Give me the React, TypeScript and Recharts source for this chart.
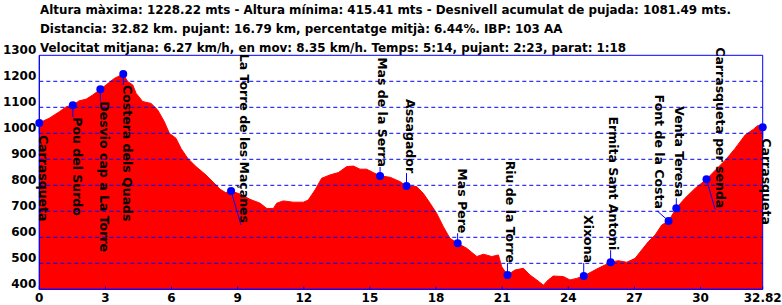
import React from "react";
import { ComposedChart, Area, Scatter, XAxis, YAxis, ReferenceLine } from "recharts";

// elevation profile (km, m)
const distances = [
  0, 0.45, 0.91, 1.22, 1.52, 1.81, 2.12, 2.42, 2.77, 3.03, 3.4, 3.81, 4.01, 4.24, 4.39, 4.69, 5.07, 5.37,
  5.67, 5.9, 6.2, 6.43, 6.73, 7.11, 7.56, 8.02, 8.2, 8.45, 8.7, 9.12, 9.56, 10.02, 10.32, 10.62, 10.77,
  11.07, 11.52, 11.98, 12.2, 12.51, 12.81, 13.19, 13.57, 13.95, 14.25, 14.55, 14.85, 15.15, 15.46, 15.91,
  16.37, 16.66, 17.12, 17.42, 17.73, 18.03, 18.33, 18.63, 18.98, 19.39, 19.85, 20.15, 20.53, 20.83, 20.98,
  21.24, 21.58, 21.96, 22.26, 22.57, 22.87, 23.09, 23.32, 23.77, 24.08, 24.38, 24.7, 25.36, 25.92, 26.27,
  26.65, 27.03, 27.33, 27.63, 27.94, 28.24, 28.55, 28.9, 29.29, 29.75, 30.27, 30.68, 31.13, 31.57, 32.02,
  32.39, 32.6, 32.82,
];
const elevations = [
  1040, 1058, 1083, 1102, 1108, 1125, 1131, 1147, 1169, 1186, 1211, 1228, 1199, 1186, 1154, 1122, 1115, 1090,
  1045, 1000, 981, 942, 904, 872, 840, 801, 785, 772, 778, 766, 746, 731, 711, 711, 731,
  740, 735, 735, 743, 782, 827, 840, 849, 872, 874, 862, 862, 849, 836, 831,
  814, 797, 795, 769, 731, 692, 641, 596, 577, 558, 526, 535, 526, 532, 487,
  455, 474, 481, 455, 436, 416, 436, 451, 449, 436, 442, 451, 481, 504, 510,
  504, 519, 551, 583, 609, 647, 663, 712, 750, 788, 823, 859, 897, 942, 993,
  1015, 1030, 1023,
];

// waypoints
const wpNames = [
  "Carrasqueta", "Pou del Surdo", "Desvio cap a La Torre", "Costera dels Quads", "La Torre de les Maçanes",
  "Mas de la Serra", "Assagador", "Mas Pere", "Riu de la Torre", "Xixona", "Ermita Sant Antoni",
  "Font de la Costa", "Venta Teresa", "Carrasqueta per senda", "Carrasqueta",
];
const wpKm = [0, 1.52, 2.77, 3.81, 8.7, 15.46, 16.66, 18.98, 21.24, 24.7, 25.92, 28.55, 28.9, 30.27, 32.82];
const wpElev = [1040, 1108, 1169, 1228, 778, 836, 797, 577, 455, 451, 504, 663, 712, 823, 1023];

const xTicks = [0, 3, 6, 9, 12, 15, 18, 21, 24, 27, 30, 32.82];
const yTicks = [400, 500, 600, 700, 800, 900, 1000, 1100, 1200, 1300];

const headerLines = [
  "Altura màxima: 1228.22 mts - Altura mínima: 415.41 mts - Desnivell acumulat de pujada: 1081.49 mts.",
  "Distancia: 32.82 km. pujant: 16.79 km, percentatge mitjà: 6.44%. IBP: 103 AA",
  "Velocitat mitjana: 6.27 km/h, en mov: 8.35 km/h. Temps: 5:14, pujant: 2:23, parat: 1:18",
];

// label placement in px relative to marker: text x, text y, leader end x, leader end y, anchor
const labelLayout: [number, number, number, number, string][] = [
  [0, 12, 0, 11, "start"],
  [0, 12, 0, 12, "start"],
  [0, 12, 0, 12, "start"],
  [0, 11, 0, 11, "start"],
  [9, 32, 10, 34, "end"],
  [-2, -9, 0, -9, "end"],
  [-1, -13, 0, -13, "end"],
  [0, -10, 0, -10, "end"],
  [-1, -12, 0, -12, "end"],
  [0, -13, 0, -13, "end"],
  [-2, -12, 0, -12, "end"],
  [-14, -12, -11.5, -10, "end"],
  [-1, -11, 0, -10, "end"],
  [9, 29, 8.6, 30, "end"],
  [-0.5, 11, 0, 11, "start"],
];

const BLUE = "#0000ff";
const FONT = "'DejaVu Sans', Verdana, sans-serif";

const profile = distances.map((km, i) => ({ km, elev: elevations[i] }));
const waypoints = wpNames.map((name, i) => ({ km: wpKm[i], elev: wpElev[i], name, i }));

const Waypoint = (props: any) => {
  const { cx, cy, payload } = props;
  if (cx == null || cy == null) return null;
  const [tx, ty, lx, ly, anchor] = labelLayout[payload.i];
  const x = cx + tx;
  const y = cy + ty;
  return (
    <g>
      <line x1={cx} y1={cy} x2={cx + lx} y2={cy + ly} stroke={BLUE} strokeWidth={1} />
      <circle cx={cx} cy={cy} r={4} fill={BLUE} />
      <text
        x={x}
        y={y}
        transform={`rotate(90 ${x} ${y})`}
        textAnchor={anchor}
        fontFamily={FONT}
        fontWeight="bold"
        fontSize={12.5}
        fill="#000"
      >
        {payload.name}
      </text>
    </g>
  );
};

const XTick = (props: any) => {
  const { x, y, payload } = props;
  return (
    <g>
      <line x1={x} y1={y} x2={x} y2={y - 3} stroke={BLUE} />
      <text x={x} y={y + 12.5} textAnchor="middle" fontFamily={FONT} fontWeight="bold" fontSize={12} fill="#000">
        {payload.value}
      </text>
    </g>
  );
};

const YTick = (props: any) => {
  const { x, y, payload } = props;
  return (
    <text x={x} y={y - 1} textAnchor="end" fontFamily={FONT} fontWeight="bold" fontSize={12} fill="#000">
      {payload.value}
    </text>
  );
};

export default function App() {
  return (
    <div style={{ position: "absolute", left: 0, top: 0, width: 782, height: 305, background: "#fff" }}>
      <ComposedChart
        width={782}
        height={305}
        data={profile}
        margin={{ top: 55.3, right: 19.3, bottom: 0, left: 0 }}
      >
        <XAxis
          dataKey="km"
          type="number"
          domain={[0, 32.82]}
          ticks={xTicks}
          interval={0}
          height={15.7}
          tickSize={0}
          tickMargin={0}
          axisLine={{ stroke: BLUE }}
          tickLine={false}
          tick={<XTick />}
        />
        <YAxis
          type="number"
          domain={[400, 1300]}
          ticks={yTicks}
          interval={0}
          width={39.3}
          tickSize={0}
          tickMargin={3}
          axisLine={{ stroke: BLUE }}
          tickLine={false}
          tick={<YTick />}
        />
        <Area
          type="linear"
          dataKey="elev"
          stroke="#ff0000"
          strokeWidth={1}
          fill="#ff0000"
          fillOpacity={1}
          isAnimationActive={false}
          dot={false}
          activeDot={false}
        />
        {yTicks.slice(1, -1).map((v) => (
          <ReferenceLine key={v} y={v} stroke={BLUE} strokeDasharray="4 3" />
        ))}
        <ReferenceLine y={1300} stroke={BLUE} />
        <ReferenceLine y={400} stroke={BLUE} />
        <ReferenceLine x={0} stroke={BLUE} />
        <ReferenceLine x={32.82} stroke={BLUE} />
        <Scatter data={waypoints} dataKey="elev" isAnimationActive={false} shape={<Waypoint />} />
      </ComposedChart>
      {headerLines.map((line, i) => (
        <div
          key={i}
          style={{
            position: "absolute",
            left: 40,
            top: 2 + i * 19,
            fontFamily: FONT,
            fontWeight: "bold",
            fontSize: 11.9,
            lineHeight: "16px",
            whiteSpace: "nowrap",
            color: "#000",
          }}
        >
          {line}
        </div>
      ))}
    </div>
  );
}
